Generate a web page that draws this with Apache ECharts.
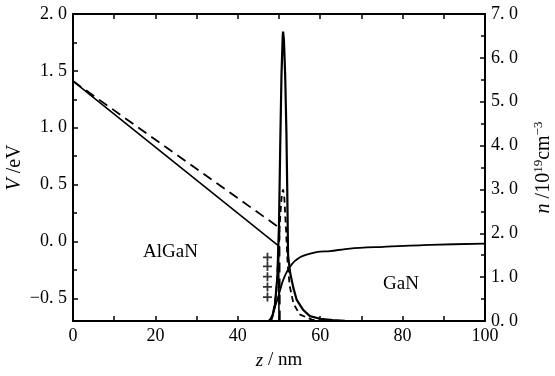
<!DOCTYPE html>
<html>
<head>
<meta charset="utf-8">
<script src="https://cdn.jsdelivr.net/npm/echarts@6/dist/echarts.min.js"></script>
<style>
  html, body { margin: 0; padding: 0; background: #fff; }
  #chart { width: 555px; height: 376px; }
</style>
</head>
<body>
<div id="chart"></div>
<script>
// potential V (left axis), solid and dashed cases
const vSolid = [[0, 1.41], [49.9, -0.04], [50.0, -0.7]];
const vDashed = [[0, 1.41], [50.1, 0.12], [50.2, -0.7]];
// potential in the GaN side
const vGaN = [
  [48.2, -0.69], [49.0, -0.58], [49.8, -0.49], [51.0, -0.34], [52.7, -0.22],
  [55.1, -0.14], [59.1, -0.095], [62.4, -0.085], [67.2, -0.063], [75.3, -0.048],
  [86.7, -0.03], [100, -0.02]
];
// electron density n (right axis)
const nSolid = [
  [0, 0], [47.5, 0], [48.3, 0.08], [49.0, 0.35], [49.6, 1.0], [50.0, 2.2],
  [50.3, 4.0], [50.6, 5.6], [50.9, 6.5], [51.0, 6.6], [51.2, 6.4], [51.5, 5.6],
  [51.8, 4.3], [52.0, 3.0], [52.2, 1.5], [52.7, 1.1], [53.5, 0.75], [54.3, 0.48],
  [55.9, 0.25], [57.5, 0.11], [60.0, 0.05], [63.0, 0.02], [66.0, 0.005], [70, 0], [100, 0]
];
const nDashed = [
  [47.8, 0], [48.6, 0.2], [49.3, 0.6], [49.8, 1.4], [50.3, 2.4], [50.7, 2.9],
  [51.0, 3.0], [51.3, 2.8], [51.7, 2.1], [52.1, 1.3], [52.6, 0.8], [53.5, 0.4],
  [55.0, 0.15], [58.0, 0.03], [62.0, 0]
];
// positive charges at the interface
const plusZ = [47.2, 47.2, 47.2, 47.2, 47.2];
const plusV = [-0.14, -0.22, -0.31, -0.40, -0.49];

const vMajor = [-0.5, 0, 0.5, 1.0, 1.5, 2.0];
const vMinor = [-0.25, 0.25, 0.75, 1.25, 1.75];

const font = 'Liberation Serif';
const fmt = v => v.toFixed(1).replace('.', '. ').replace('-', '\u2212');

const chart = echarts.init(document.getElementById('chart'));

const tickStyle = { color: '#000', width: 1.5 };

const option = {
  animation: false,
  textStyle: { fontFamily: font, color: '#000' },
  grid: { left: 73, right: 70, top: 14, bottom: 55, outerBoundsMode: 'none', containLabel: false },
  xAxis: [
    {
      type: 'value', min: 0, max: 100, interval: 20, position: 'bottom',
      name: '{i|z} / nm', nameLocation: 'middle', nameGap: 30, nameMoveOverlap: false,
      nameTextStyle: {
        fontSize: 19, fontFamily: font, color: '#000',
        rich: { i: { fontStyle: 'italic', fontSize: 19, fontFamily: font } }
      },
      axisLine: { onZero: false, lineStyle: { color: '#000', width: 2 } },
      axisTick: { inside: true, length: 5, lineStyle: tickStyle },
      minorTick: { show: true, splitNumber: 2, length: 5, lineStyle: tickStyle },
      axisLabel: { fontSize: 18, fontFamily: font, color: '#000', margin: 6 },
      splitLine: { show: false }
    },
    {
      type: 'value', min: 0, max: 100, interval: 20, position: 'top',
      axisLine: { onZero: false, lineStyle: { color: '#000', width: 2 } },
      axisTick: { inside: true, length: 5, lineStyle: tickStyle },
      minorTick: { show: true, splitNumber: 2, length: 5, lineStyle: tickStyle },
      axisLabel: { show: false },
      splitLine: { show: false }
    }
  ],
  yAxis: [
    {
      type: 'value', min: -0.7, max: 2.0, position: 'left',
      name: '{i|V} /eV', nameLocation: 'middle', nameGap: 48, nameMoveOverlap: false,
      nameTextStyle: {
        fontSize: 20, fontFamily: font, color: '#000',
        rich: { i: { fontStyle: 'italic', fontSize: 20, fontFamily: font } }
      },
      axisLine: { onZero: false, lineStyle: { color: '#000', width: 2 } },
      axisTick: { inside: true, length: 5, customValues: vMajor, lineStyle: tickStyle },
      axisLabel: { customValues: vMajor, fontSize: 18, fontFamily: font, color: '#000', margin: 6, formatter: fmt },
      splitLine: { show: false }
    },
    {
      type: 'value', min: 0, max: 7, interval: 1, position: 'right',
      name: '{i|n} /10{s|19}cm{s|\u22123}', nameLocation: 'middle', nameGap: 47, nameRotate: 90,
      nameMoveOverlap: false,
      nameTextStyle: {
        fontSize: 20, fontFamily: font, color: '#000',
        rich: {
          i: { fontStyle: 'italic', fontSize: 20, fontFamily: font },
          s: { fontSize: 13, fontFamily: font, verticalAlign: 'top', padding: [0, 0, 10, 0] }
        }
      },
      axisLine: { onZero: false, lineStyle: { color: '#000', width: 2 } },
      axisTick: { inside: true, length: 5, lineStyle: tickStyle },
      minorTick: { show: true, splitNumber: 2, length: 4, lineStyle: tickStyle },
      axisLabel: { fontSize: 18, fontFamily: font, color: '#000', margin: 6, formatter: fmt },
      splitLine: { show: false }
    },
    {
      // minor ticks for the V axis
      type: 'value', min: -0.7, max: 2.0, position: 'left',
      axisLine: { show: false, onZero: false },
      axisTick: { inside: true, length: 4, customValues: vMinor, lineStyle: tickStyle },
      axisLabel: { show: false },
      splitLine: { show: false }
    }
  ],
  graphic: [
    { type: 'text', left: 143, top: 243, style: { text: 'AlGaN', font: '19px "Liberation Serif"', fill: '#000' } },
    { type: 'text', left: 383, top: 275, style: { text: 'GaN', font: '19px "Liberation Serif"', fill: '#000' } }
  ],
  series: [
    {
      type: 'line', yAxisIndex: 0, data: vSolid, symbol: 'none',
      lineStyle: { color: '#000', width: 1.6 }
    },
    {
      type: 'line', yAxisIndex: 0, data: vDashed, symbol: 'none',
      lineStyle: { color: '#000', width: 1.8, type: [10, 6] }
    },
    {
      type: 'line', yAxisIndex: 0, data: vGaN, symbol: 'none', smooth: 0.3,
      lineStyle: { color: '#000', width: 1.8 }
    },
    {
      type: 'line', yAxisIndex: 1, data: nSolid, symbol: 'none',
      lineStyle: { color: '#000', width: 2.2 }
    },
    {
      type: 'line', yAxisIndex: 1, data: nDashed, symbol: 'none',
      lineStyle: { color: '#000', width: 1.8, type: [6, 4] }
    },
    {
      type: 'scatter', yAxisIndex: 0,
      data: plusZ.map((z, i) => [z, plusV[i]]),
      symbol: 'path://M4,0 L6,0 L6,4 L10,4 L10,6 L6,6 L6,10 L4,10 L4,6 L0,6 L0,4 L4,4 Z',
      symbolSize: 9,
      itemStyle: { color: '#000' }
    }
  ]
};

chart.setOption(option);
</script>
</body>
</html>
